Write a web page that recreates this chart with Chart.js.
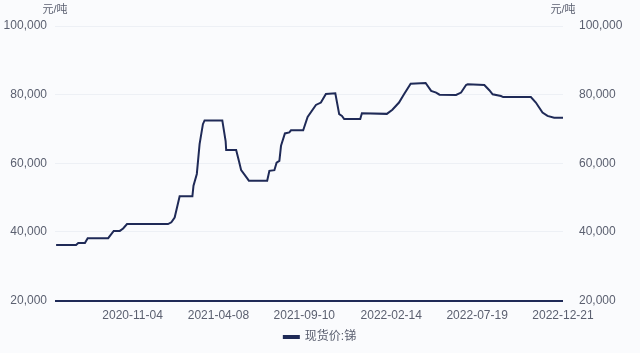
<!DOCTYPE html>
<html>
<head>
<meta charset="utf-8">
<script src="https://cdn.jsdelivr.net/npm/chart.js@4.4.0/dist/chart.umd.min.js"></script>
<title>现货价:锑</title>
<style>
  html, body { margin: 0; padding: 0; background: #fafbfd; }
  #wrap { width: 640px; height: 353px; }
</style>
</head>
<body>
<div id="wrap"><canvas id="myChart"></canvas></div>
<script>
// dates où le prix change + prix en 元/吨
var dates = [
  '2020-06-19','2020-07-25','2020-07-29','2020-08-10','2020-08-15','2020-09-21',
  '2020-10-01','2020-10-12','2020-10-18','2020-10-25','2021-01-07','2021-01-13',
  '2021-01-19','2021-01-28','2021-02-20','2021-02-22','2021-02-28','2021-03-05',
  '2021-03-11','2021-03-14','2021-04-15','2021-04-21','2021-04-22','2021-05-10',
  '2021-05-15','2021-05-19','2021-05-31','2021-06-02','2021-07-05','2021-07-09',
  '2021-07-18','2021-07-22','2021-07-27','2021-07-30','2021-08-06','2021-08-14',
  '2021-08-17','2021-09-08','2021-09-16','2021-10-01','2021-10-10','2021-10-19',
  '2021-11-05','2021-11-12','2021-11-17','2021-11-21','2021-12-20','2021-12-23',
  '2022-02-06','2022-02-16','2022-02-28','2022-03-09','2022-03-21','2022-04-17',
  '2022-04-27','2022-05-06','2022-05-12','2022-06-11','2022-06-20','2022-06-29',
  '2022-07-02','2022-08-01','2022-08-10','2022-08-16','2022-08-31','2022-09-04',
  '2022-10-24','2022-11-02','2022-11-14','2022-11-23','2022-12-05','2022-12-21'
];
var prices = [
  36200, 36200, 36800, 36800, 38200, 38200,
  40300, 40300, 41000, 42300, 42300, 42800,
  44200, 50400, 50400, 53500, 56900, 65600,
  71400, 72500, 72500, 66500, 63900, 63900,
  60700, 58000, 55400, 54900, 54900, 57800,
  58000, 60200, 60700, 65100, 68700, 69000,
  69600, 69600, 73500, 77000, 77700, 80200,
  80400, 74300, 73800, 72900, 72900, 74600,
  74400, 75600, 77700, 80100, 83200, 83400,
  81100, 80600, 80000, 79900, 80600, 82800,
  83000, 82800, 81300, 80100, 79600, 79300,
  79300, 77700, 74800, 73800, 73300, 73300
];
var tickDates = ['2020-11-04','2021-04-08','2021-09-10','2022-02-14','2022-07-19','2022-12-21'];
var yTicks = [20000, 40000, 60000, 80000, 100000];
var unitLabel = '元/吨';
var seriesName = '现货价:锑';

var navy = '#1f2a57';
var textColor = '#5b6070';
var fontFam = '"Liberation Sans", "Noto Sans CJK SC", sans-serif';

function dayNum(d) {
  return Date.parse(d + 'T00:00:00Z') / 86400000;
}

var points = [];
for (var i = 0; i < dates.length; i++) {
  points.push({ x: dayNum(dates[i]), y: prices[i] });
}

function fmt(v) {
  return v.toLocaleString('en-US');
}

// fond + unités en haut des axes
var decor = {
  id: 'decor',
  beforeDraw: function(chart) {
    var ctx = chart.ctx;
    ctx.save();
    ctx.fillStyle = '#fafbfd';
    ctx.fillRect(0, 0, chart.width, chart.height);
    ctx.restore();
  },
  afterDraw: function(chart) {
    var ctx = chart.ctx, a = chart.chartArea;
    ctx.save();
    ctx.font = '11px ' + fontFam;
    ctx.fillStyle = textColor;
    ctx.textAlign = 'center';
    ctx.textBaseline = 'middle';
    ctx.fillText(unitLabel, a.left, 10);
    ctx.fillText(unitLabel, a.right, 10);
    ctx.restore();
  }
};

var yBase = {
  min: 20000,
  max: 100000,
  afterBuildTicks: function(s) { s.ticks = yTicks.map(function(v) { return { value: v }; }); },
  ticks: { color: textColor, font: { size: 12, family: fontFam }, padding: 8, callback: function(v) { return fmt(v); } },
  border: { display: false }
};

var config = {
  type: 'line',
  data: {
    datasets: [{
      label: seriesName,
      data: points,
      borderColor: navy,
      backgroundColor: navy,
      borderWidth: 2,
      pointRadius: 0,
      tension: 0
    }]
  },
  options: {
    responsive: true,
    maintainAspectRatio: false,
    animation: false,
    layout: { padding: { top: 26, left: 0, right: 0, bottom: 0 } },
    plugins: {
      legend: {
        position: 'bottom',
        labels: {
          color: textColor,
          font: { size: 12, family: fontFam },
          boxWidth: 15,
          boxHeight: 2,
          padding: 8
        }
      },
      tooltip: { enabled: false }
    },
    scales: {
      x: {
        type: 'linear',
        min: dayNum('2020-06-17'),
        max: dayNum('2022-12-21'),
        afterBuildTicks: function(s) { s.ticks = tickDates.map(function(d) { return { value: dayNum(d) }; }); },
        grid: { display: false },
        border: { display: false },
        ticks: {
          color: textColor,
          font: { size: 12, family: fontFam },
          padding: 0,
          autoSkip: false,
          maxRotation: 0,
          callback: function(v) {
            for (var k = 0; k < tickDates.length; k++) {
              if (dayNum(tickDates[k]) === v) return tickDates[k];
            }
            return '';
          }
        }
      },
      y: Object.assign({}, yBase, {
        position: 'left',
        afterFit: function(s) { s.width = 55; },
        grid: {
          drawTicks: false,
          color: function(c) { return c.tick.value === 20000 ? navy : '#edf0f5'; },
          lineWidth: function(c) { return c.tick.value === 20000 ? 2 : 1; }
        }
      }),
      y1: Object.assign({}, yBase, {
        position: 'right',
        afterFit: function(s) { s.width = 77; },
        grid: { display: false }
      })
    }
  },
  plugins: [decor]
};

var myChart = new Chart(document.getElementById('myChart'), config);
</script>
</body>
</html>
